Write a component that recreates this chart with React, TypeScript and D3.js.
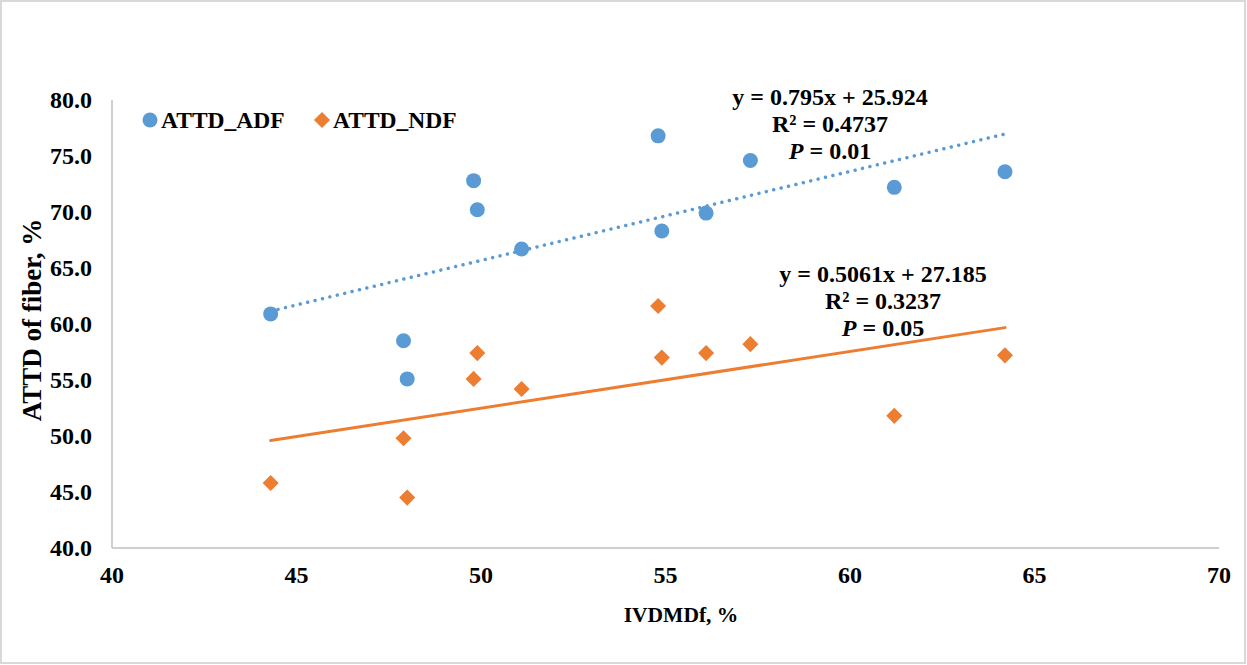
import React from 'react';
import * as d3 from 'd3';

// IVDMDf, % (shared x values)
const ivdmdf = [44.3, 47.9, 48.0, 49.8, 49.9, 51.1, 54.8, 54.9, 56.1, 57.3, 61.2, 64.2];
const attdADF = [60.9, 58.5, 55.1, 72.8, 70.2, 66.7, 76.8, 68.3, 69.9, 74.6, 72.2, 73.6];
const attdNDF = [45.8, 49.8, 44.5, 55.1, 57.4, 54.2, 61.6, 57.0, 57.4, 58.2, 51.8, 57.2];

// trendline coefficients (slope, intercept) as printed on the chart
const adfFit = [0.795, 25.924];
const ndfFit = [0.5061, 27.185];
const adfLabels = ['y = 0.795x + 25.924', 'R² = 0.4737', '0.01'];
const ndfLabels = ['y = 0.5061x + 27.185', 'R² = 0.3237', '0.05'];

const xTicks = [40, 45, 50, 55, 60, 65, 70];
const yTicks = [40, 45, 50, 55, 60, 65, 70, 75, 80];

const W = 1247;
const H = 665;
const BLUE = '#5B9BD5';
const ORANGE = '#ED7D31';
const FONT = '"Liberation Serif", "Times New Roman", serif';

const App = () => {
    const marginLeft = 112;
    const marginRight = 1219;
    const marginTop = 100;
    const marginBottom = 548;

    const x = d3.scaleLinear().domain([40, 70]).range([marginLeft, marginRight]);
    const y = d3.scaleLinear().domain([40, 80]).range([marginBottom, marginTop]);

    const xMin = d3.min(ivdmdf);
    const xMax = d3.max(ivdmdf);

    const fitLine = (fit) => d3.line()
        .x(d => x(d))
        .y(d => y(fit[0] * d + fit[1]))([xMin, xMax]);

    const diamond = d3.symbol().type(d3.symbolDiamond2).size(165)();

    const eqBlock = (labels, cx, baseY) => (
        <g fontFamily={FONT} fontWeight="bold" fontSize={24} textAnchor="middle" fill="#000">
            <text x={cx} y={baseY}>{labels[0]}</text>
            <text x={cx} y={baseY + 27}>{labels[1]}</text>
            <text x={cx} y={baseY + 54}>
                <tspan fontStyle="italic">P</tspan> = {labels[2]}
            </text>
        </g>
    );

    return (
        <svg width={W} height={H} style={{ position: 'absolute', left: 0, top: 0, background: '#fff' }}>
            <rect x={1} y={1} width={W - 3} height={H - 3} fill="#fff" stroke="#D9D9D9" strokeWidth={2} />

            {/* axes */}
            <line x1={marginLeft} x2={marginLeft} y1={marginTop} y2={marginBottom} stroke="#BFBFBF" strokeWidth={1.5} />
            <line x1={marginLeft} x2={marginRight} y1={marginBottom} y2={marginBottom} stroke="#BFBFBF" strokeWidth={1.5} />

            <g fontFamily={FONT} fontWeight="bold" fontSize={24} fill="#000">
                {yTicks.map(t => (
                    <text key={t} x={92} y={y(t) + 8} textAnchor="end">{t.toFixed(1)}</text>
                ))}
                {xTicks.map(t => (
                    <text key={t} x={x(t)} y={583} textAnchor="middle">{t}</text>
                ))}
            </g>

            <text x={681} y={622} textAnchor="middle" fontFamily={FONT} fontWeight="bold" fontSize={21.5}>IVDMDf, %</text>
            <text transform={`translate(41,${320}) rotate(-90)`} textAnchor="middle" fontFamily={FONT} fontWeight="bold" fontSize={27}>ATTD of fiber, %</text>

            {/* trendlines */}
            <path d={fitLine(adfFit)} fill="none" stroke={BLUE} strokeWidth={3.5} strokeDasharray="0.01 7.6" strokeLinecap="round" />
            <path d={fitLine(ndfFit)} fill="none" stroke={ORANGE} strokeWidth={3} strokeLinecap="round" />

            {/* points */}
            {ivdmdf.map((v, i) => (
                <circle key={'a' + i} cx={x(v)} cy={y(attdADF[i])} r={7.5} fill={BLUE} />
            ))}
            {ivdmdf.map((v, i) => (
                <path key={'n' + i} d={diamond} transform={`translate(${x(v)},${y(attdNDF[i])})`} fill={ORANGE} />
            ))}

            {/* legend */}
            <circle cx={150} cy={120} r={7.5} fill={BLUE} />
            <text x={161} y={128} fontFamily={FONT} fontWeight="bold" fontSize={23.5}>ATTD_ADF</text>
            <path d={diamond} transform="translate(322,120)" fill={ORANGE} />
            <text x={333} y={128} fontFamily={FONT} fontWeight="bold" fontSize={23.5}>ATTD_NDF</text>

            {eqBlock(adfLabels, 830, 105)}
            {eqBlock(ndfLabels, 883, 282)}
        </svg>
    );
};

export default App;
